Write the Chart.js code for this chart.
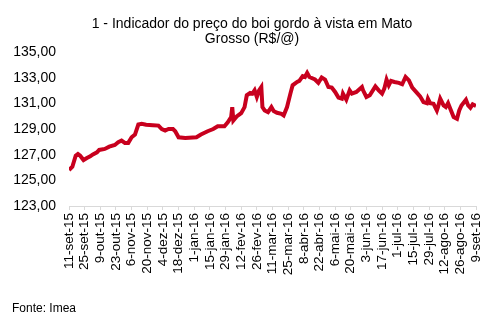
<!DOCTYPE html>
<html>
<head>
<meta charset="utf-8">
<script src="https://cdn.jsdelivr.net/npm/chart.js@4"></script>
<style>
  html, body { margin: 0; padding: 0; background: #fff; }
  #wrap { position: relative; width: 504px; height: 327px; }
  #fonte { position: absolute; left: 12px; top: 301px; font: 12px "Liberation Sans", Arial, sans-serif; color: #000; }
</style>
</head>
<body>
<div id="wrap">
  <canvas id="boi-chart" width="504" height="327"></canvas>
  <div id="fonte">Fonte: Imea</div>
</div>
<script>
// days counted from 11-set-15
const days = [0, 3, 6, 8, 10, 13, 16, 19, 21, 25, 27, 32, 36, 41, 44, 47, 50, 53, 56, 59,
  62, 65, 69, 75, 80, 83, 86, 89, 93, 95, 98, 104, 114, 118, 124, 129, 133, 139, 142, 145,
  146, 147, 150, 154, 157, 159, 162, 164, 166, 168, 170, 172, 173, 175, 178, 181, 183, 186, 190, 192,
  195, 198, 200, 204, 206, 209, 211, 213, 215, 220, 223, 226, 229, 232, 235, 238, 241, 244, 245, 248,
  251, 253, 257, 262, 263, 266, 269, 274, 277, 280, 282, 284, 286, 288, 291, 295, 298, 301, 304, 307,
  311, 314, 317, 320, 321, 323, 326, 329, 330, 332, 335, 337, 339, 341, 344, 347, 349, 351, 355, 357,
  359, 361, 364];

const prices = [125.80, 126.06, 126.92, 127.05, 126.92, 126.58, 126.74, 126.87, 127.00, 127.18,
  127.37, 127.45, 127.63, 127.76, 127.97, 128.10, 127.92, 127.92, 128.36, 128.57,
  129.35, 129.40, 129.33, 129.30, 129.27, 129.00, 128.88, 129.00, 129.00, 128.83,
  128.36, 128.31, 128.36, 128.57, 128.83, 129.00, 129.22, 129.22, 129.53, 129.93,
  130.71, 129.67, 129.98, 130.24, 130.71, 131.63, 131.81, 131.76, 132.02, 131.50,
  132.02, 132.28, 130.71, 130.45, 130.32, 130.71, 130.40, 130.27, 130.19, 130.06,
  130.71, 131.76, 132.41, 132.67, 132.75, 133.12, 133.06, 133.38, 133.06, 132.86,
  132.60, 133.02, 132.86, 132.28, 132.23, 131.89, 131.45, 131.37, 131.76, 131.29,
  132.02, 131.76, 131.89, 132.28, 132.02, 131.50, 131.63, 132.33, 132.02, 131.76,
  132.15, 132.86, 132.41, 132.75, 132.67, 132.60, 132.49, 133.06, 132.80, 132.23,
  131.84, 131.55, 131.10, 131.02, 131.37, 131.02, 130.97, 130.45, 130.71, 131.37,
  130.84, 130.71, 131.02, 130.58, 129.93, 129.80, 130.45, 130.84, 131.29, 130.84,
  130.66, 130.92, 130.79];

const tickLabels = ['11-set-15', '25-set-15', '9-out-15', '23-out-15', '6-nov-15', '20-nov-15',
  '4-dez-15', '18-dez-15', '1-jan-16', '15-jan-16', '29-jan-16', '12-fev-16', '26-fev-16',
  '11-mar-16', '25-mar-16', '8-abr-16', '22-abr-16', '6-mai-16', '20-mai-16', '3-jun-16',
  '17-jun-16', '1-jul-16', '15-jul-16', '29-jul-16', '12-ago-16', '26-ago-16', '9-set-16'];

const fontFamily = '"Liberation Sans", Arial, sans-serif';

const points = days.map((d, i) => ({ x: d, y: prices[i] }));

const chart = new Chart(document.getElementById('boi-chart'), {
  type: 'line',
  data: {
    datasets: [{
      data: points,
      borderColor: '#c8001e',
      borderWidth: 4,
      pointRadius: 0,
      tension: 0,
      fill: false
    }]
  },
  options: {
    responsive: false,
    animation: false,
    layout: { padding: 0 },
    plugins: {
      legend: { display: false },
      tooltip: { enabled: false },
      title: {
        display: true,
        text: ['1 - Indicador do preço do boi gordo à vista em Mato', 'Grosso (R$/@)'],
        color: '#000',
        font: { family: fontFamily, size: 14, weight: 'normal', lineHeight: 1.11 },
        padding: { top: 16, bottom: 5 }
      }
    },
    scales: {
      x: {
        type: 'linear',
        min: 0,
        max: 364,
        afterBuildTicks: (axis) => {
          axis.ticks = tickLabels.map((_, i) => ({ value: i * 14 }));
        },
        afterFit: (axis) => { axis.height = 121; },
        grid: { drawOnChartArea: false, drawTicks: true, tickLength: 4, color: '#d9d9d9' },
        border: { display: true, color: '#d9d9d9' },
        ticks: {
          autoSkip: false,
          minRotation: 90,
          maxRotation: 90,
          padding: 3,
          color: '#000',
          font: { family: fontFamily, size: 13.5 },
          callback: (value) => tickLabels[Math.round(value / 14)]
        }
      },
      y: {
        min: 123,
        max: 135,
        afterFit: (axis) => { axis.width = 69; },
        grid: { display: false, drawTicks: false },
        border: { display: false },
        ticks: {
          stepSize: 2,
          padding: 13,
          color: '#000',
          font: { family: fontFamily, size: 14 },
          callback: (value) => value.toFixed(2).replace('.', ',')
        }
      },
      // empty right-hand margin so the title stays centred on the whole figure
      yRight: {
        position: 'right',
        min: 123,
        max: 135,
        afterFit: (axis) => { axis.width = 28; },
        grid: { display: false, drawTicks: false },
        border: { display: false },
        ticks: { display: false }
      }
    }
  }
});
</script>
</body>
</html>
